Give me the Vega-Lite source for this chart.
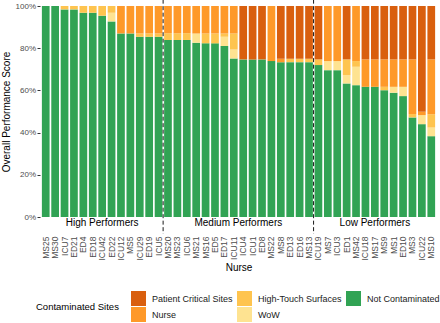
{
  "$schema": "https://vega.github.io/schema/vega-lite/v6.json",
  "autosize": {"type": "none"},
  "width": 397,
  "height": 211,
  "padding": {"left": 40, "top": 6, "right": 3, "bottom": 106},
  "config": {
    "font": "Liberation Sans",
    "view": {"stroke": null},
    "axis": {"grid": false, "domain": false}
  },
  "data": {"values": [
    {"n": "MS25", "s": "Not Contaminated", "v": 100},
    {"n": "MS30", "s": "Not Contaminated", "v": 100},
    {"n": "ICU7", "s": "Not Contaminated", "v": 98.4}, {"n": "ICU7", "s": "High-Touch Surfaces", "v": 1.6},
    {"n": "ED21", "s": "Not Contaminated", "v": 98.4}, {"n": "ED21", "s": "High-Touch Surfaces", "v": 1.6},
    {"n": "ED4", "s": "Not Contaminated", "v": 96.8}, {"n": "ED4", "s": "High-Touch Surfaces", "v": 3.2},
    {"n": "ED18", "s": "Not Contaminated", "v": 96.8}, {"n": "ED18", "s": "High-Touch Surfaces", "v": 3.2},
    {"n": "ICU42", "s": "Not Contaminated", "v": 95.4}, {"n": "ICU42", "s": "High-Touch Surfaces", "v": 4.6},
    {"n": "ED22", "s": "Not Contaminated", "v": 92.7}, {"n": "ED22", "s": "WoW", "v": 4.1}, {"n": "ED22", "s": "High-Touch Surfaces", "v": 3.2},
    {"n": "ICU12", "s": "Not Contaminated", "v": 87.0}, {"n": "ICU12", "s": "Nurse", "v": 13.0},
    {"n": "MS5", "s": "Not Contaminated", "v": 87.0}, {"n": "MS5", "s": "Nurse", "v": 13.0},
    {"n": "ICU29", "s": "Not Contaminated", "v": 85.4}, {"n": "ICU29", "s": "High-Touch Surfaces", "v": 1.6}, {"n": "ICU29", "s": "Nurse", "v": 13.0},
    {"n": "ED19", "s": "Not Contaminated", "v": 85.4}, {"n": "ED19", "s": "High-Touch Surfaces", "v": 1.6}, {"n": "ED19", "s": "Nurse", "v": 13.0},
    {"n": "ICU5", "s": "Not Contaminated", "v": 85.4}, {"n": "ICU5", "s": "High-Touch Surfaces", "v": 1.6}, {"n": "ICU5", "s": "Nurse", "v": 13.0},
    {"n": "MS20", "s": "Not Contaminated", "v": 83.9}, {"n": "MS20", "s": "High-Touch Surfaces", "v": 3.2}, {"n": "MS20", "s": "Nurse", "v": 12.9},
    {"n": "MS23", "s": "Not Contaminated", "v": 83.9}, {"n": "MS23", "s": "High-Touch Surfaces", "v": 3.2}, {"n": "MS23", "s": "Nurse", "v": 12.9},
    {"n": "ICU6", "s": "Not Contaminated", "v": 83.9}, {"n": "ICU6", "s": "High-Touch Surfaces", "v": 3.2}, {"n": "ICU6", "s": "Nurse", "v": 12.9},
    {"n": "MS21", "s": "Not Contaminated", "v": 82.6}, {"n": "MS21", "s": "WoW", "v": 4.4}, {"n": "MS21", "s": "Nurse", "v": 13.0},
    {"n": "MS16", "s": "Not Contaminated", "v": 82.3}, {"n": "MS16", "s": "High-Touch Surfaces", "v": 4.7}, {"n": "MS16", "s": "Nurse", "v": 13.0},
    {"n": "ED5", "s": "Not Contaminated", "v": 82.3}, {"n": "ED5", "s": "High-Touch Surfaces", "v": 4.7}, {"n": "ED5", "s": "Nurse", "v": 13.0},
    {"n": "ED17", "s": "Not Contaminated", "v": 81.0}, {"n": "ED17", "s": "WoW", "v": 4.4}, {"n": "ED17", "s": "High-Touch Surfaces", "v": 1.6}, {"n": "ED17", "s": "Nurse", "v": 13.0},
    {"n": "ICU11", "s": "Not Contaminated", "v": 75.1}, {"n": "ICU11", "s": "WoW", "v": 4.3}, {"n": "ICU11", "s": "High-Touch Surfaces", "v": 7.6}, {"n": "ICU11", "s": "Nurse", "v": 13.0},
    {"n": "ICU4", "s": "Not Contaminated", "v": 74.7}, {"n": "ICU4", "s": "Patient Critical Sites", "v": 25.3},
    {"n": "ICU1", "s": "Not Contaminated", "v": 74.7}, {"n": "ICU1", "s": "Patient Critical Sites", "v": 25.3},
    {"n": "ED8", "s": "Not Contaminated", "v": 74.7}, {"n": "ED8", "s": "Patient Critical Sites", "v": 25.3},
    {"n": "MS22", "s": "Not Contaminated", "v": 73.9}, {"n": "MS22", "s": "Nurse", "v": 26.1},
    {"n": "MS8", "s": "Not Contaminated", "v": 73.4}, {"n": "MS8", "s": "Nurse", "v": 1.6}, {"n": "MS8", "s": "Patient Critical Sites", "v": 25.0},
    {"n": "ED13", "s": "Not Contaminated", "v": 73.4}, {"n": "ED13", "s": "High-Touch Surfaces", "v": 1.6}, {"n": "ED13", "s": "Patient Critical Sites", "v": 25.0},
    {"n": "ED16", "s": "Not Contaminated", "v": 73.4}, {"n": "ED16", "s": "High-Touch Surfaces", "v": 1.6}, {"n": "ED16", "s": "Patient Critical Sites", "v": 25.0},
    {"n": "MS13", "s": "Not Contaminated", "v": 73.4}, {"n": "MS13", "s": "High-Touch Surfaces", "v": 1.6}, {"n": "MS13", "s": "Patient Critical Sites", "v": 25.0},
    {"n": "ICU19", "s": "Not Contaminated", "v": 72.0}, {"n": "ICU19", "s": "High-Touch Surfaces", "v": 2.7}, {"n": "ICU19", "s": "Patient Critical Sites", "v": 25.3},
    {"n": "MS7", "s": "Not Contaminated", "v": 69.6}, {"n": "MS7", "s": "WoW", "v": 4.3}, {"n": "MS7", "s": "Nurse", "v": 26.1},
    {"n": "ICU3", "s": "Not Contaminated", "v": 69.6}, {"n": "ICU3", "s": "WoW", "v": 4.3}, {"n": "ICU3", "s": "Nurse", "v": 26.1},
    {"n": "ED1", "s": "Not Contaminated", "v": 63.3}, {"n": "ED1", "s": "WoW", "v": 3.9}, {"n": "ED1", "s": "High-Touch Surfaces", "v": 7.5}, {"n": "ED1", "s": "Patient Critical Sites", "v": 25.3},
    {"n": "MS42", "s": "Not Contaminated", "v": 62.5}, {"n": "MS42", "s": "WoW", "v": 8.7}, {"n": "MS42", "s": "High-Touch Surfaces", "v": 2.7}, {"n": "MS42", "s": "Nurse", "v": 26.1},
    {"n": "ICU18", "s": "Not Contaminated", "v": 61.7}, {"n": "ICU18", "s": "Nurse", "v": 13.0}, {"n": "ICU18", "s": "Patient Critical Sites", "v": 25.3},
    {"n": "MS17", "s": "Not Contaminated", "v": 61.7}, {"n": "MS17", "s": "Nurse", "v": 13.0}, {"n": "MS17", "s": "Patient Critical Sites", "v": 25.3},
    {"n": "MS9", "s": "Not Contaminated", "v": 60.1}, {"n": "MS9", "s": "High-Touch Surfaces", "v": 1.6}, {"n": "MS9", "s": "Nurse", "v": 13.0}, {"n": "MS9", "s": "Patient Critical Sites", "v": 25.3},
    {"n": "MS1", "s": "Not Contaminated", "v": 58.9}, {"n": "MS1", "s": "WoW", "v": 2.8}, {"n": "MS1", "s": "Nurse", "v": 13.0}, {"n": "MS1", "s": "Patient Critical Sites", "v": 25.3},
    {"n": "ED10", "s": "Not Contaminated", "v": 57.3}, {"n": "ED10", "s": "WoW", "v": 4.4}, {"n": "ED10", "s": "Nurse", "v": 13.0}, {"n": "ED10", "s": "Patient Critical Sites", "v": 25.3},
    {"n": "MS3", "s": "Not Contaminated", "v": 47.2}, {"n": "MS3", "s": "High-Touch Surfaces", "v": 1.6}, {"n": "MS3", "s": "Nurse", "v": 25.9}, {"n": "MS3", "s": "Patient Critical Sites", "v": 25.3},
    {"n": "ICU22", "s": "Not Contaminated", "v": 44.0}, {"n": "ICU22", "s": "WoW", "v": 4.3}, {"n": "ICU22", "s": "Nurse", "v": 1.6}, {"n": "ICU22", "s": "Patient Critical Sites", "v": 50.1},
    {"n": "MS10", "s": "Not Contaminated", "v": 38.3}, {"n": "MS10", "s": "WoW", "v": 4.1}, {"n": "MS10", "s": "High-Touch Surfaces", "v": 6.3}, {"n": "MS10", "s": "Nurse", "v": 26.0}, {"n": "MS10", "s": "Patient Critical Sites", "v": 25.3}
  ]},
  "layer": [
    {
      "transform": [
        {"calculate": "indexof(['Not Contaminated','WoW','High-Touch Surfaces','Nurse','Patient Critical Sites'], datum.s)", "as": "o"}
      ],
      "mark": {"type": "bar"},
      "encoding": {
        "x": {
          "field": "n", "type": "nominal",
          "scale": {
            "domain": ["MS25","MS30","ICU7","ED21","ED4","ED18","ICU42","ED22","ICU12","MS5","ICU29","ED19","ICU5","MS20","MS23","ICU6","MS21","MS16","ED5","ED17","ICU11","ICU4","ICU1","ED8","MS22","MS8","ED13","ED16","MS13","ICU19","MS7","ICU3","ED1","MS42","ICU18","MS17","MS9","MS1","ED10","MS3","ICU22","MS10"],
            "paddingInner": 0.18, "paddingOuter": 0.2
          },
          "axis": {
            "title": "Nurse", "labelAngle": -90, "labelFontSize": 8.5, "labelColor": "#4D4D4D",
            "ticks": false, "labelPadding": 19, "titleFontSize": 10, "titleFontWeight": "normal",
            "titlePadding": 2, "titleColor": "#000000"
          }
        },
        "y": {
          "field": "v", "type": "quantitative", "stack": "normalize",
          "scale": {"domain": [0, 1], "nice": false},
          "axis": {
            "title": "Overall Performance Score", "format": ".0%", "values": [0, 0.2, 0.4, 0.6, 0.8, 1],
            "labelFontSize": 8, "labelColor": "#4D4D4D", "tickSize": 3, "tickColor": "#333333",
            "labelPadding": 1.5, "titleFontSize": 10, "titleFontWeight": "normal", "titleColor": "#000000",
            "titlePadding": 4
          }
        },
        "color": {
          "field": "s", "type": "nominal",
          "scale": {
            "domain": ["Patient Critical Sites", "Nurse", "High-Touch Surfaces", "WoW", "Not Contaminated"],
            "range": ["#D95F0E", "#FE9929", "#FEC44F", "#FEE391", "#31A354"]
          },
          "legend": {
            "title": "Contaminated Sites", "orient": "none", "legendX": -4, "legendY": 285,
            "columns": 3, "titleOrient": "left", "titleAnchor": "middle", "titleBaseline": "middle",
            "titleFontSize": 9.5, "titleFontWeight": "normal", "titleColor": "#000000", "titlePadding": 12,
            "labelFontSize": 9, "labelColor": "#1A1A1A", "labelLimit": 200,
            "symbolType": "square", "symbolSize": 225, "symbolStrokeWidth": 0, "symbolOpacity": 1,
            "labelOffset": 6, "rowPadding": 1, "columnPadding": 4, "padding": 0
          }
        },
        "order": {"field": "o", "type": "quantitative"}
      }
    },
    {
      "data": {"values": [{"n": "MS20"}, {"n": "ICU19"}]},
      "mark": {"type": "rule", "strokeDash": [4, 2.5], "color": "#1A1A1A", "strokeWidth": 1, "xOffset": -1},
      "encoding": {
        "x": {"field": "n", "type": "nominal", "bandPosition": 0},
        "y": {"datum": 1.03, "type": "quantitative"},
        "y2": {"datum": -0.08}
      }
    },
    {
      "data": {"values": [{"g": "High Performers", "n": "ICU42"}, {"g": "Low Performers", "n": "MS17"}]},
      "mark": {"type": "text", "fontSize": 10, "color": "#000000", "baseline": "middle"},
      "encoding": {
        "x": {"field": "n", "type": "nominal", "bandPosition": 0.5},
        "y": {"datum": -0.03, "type": "quantitative"},
        "text": {"field": "g"}
      }
    },
    {
      "data": {"values": [{"g": "Medium Performers", "n": "ICU4"}]},
      "mark": {"type": "text", "fontSize": 10, "color": "#000000", "baseline": "middle", "xOffset": -1},
      "encoding": {
        "x": {"field": "n", "type": "nominal", "bandPosition": 0},
        "y": {"datum": -0.03, "type": "quantitative"},
        "text": {"field": "g"}
      }
    }
  ]
}
